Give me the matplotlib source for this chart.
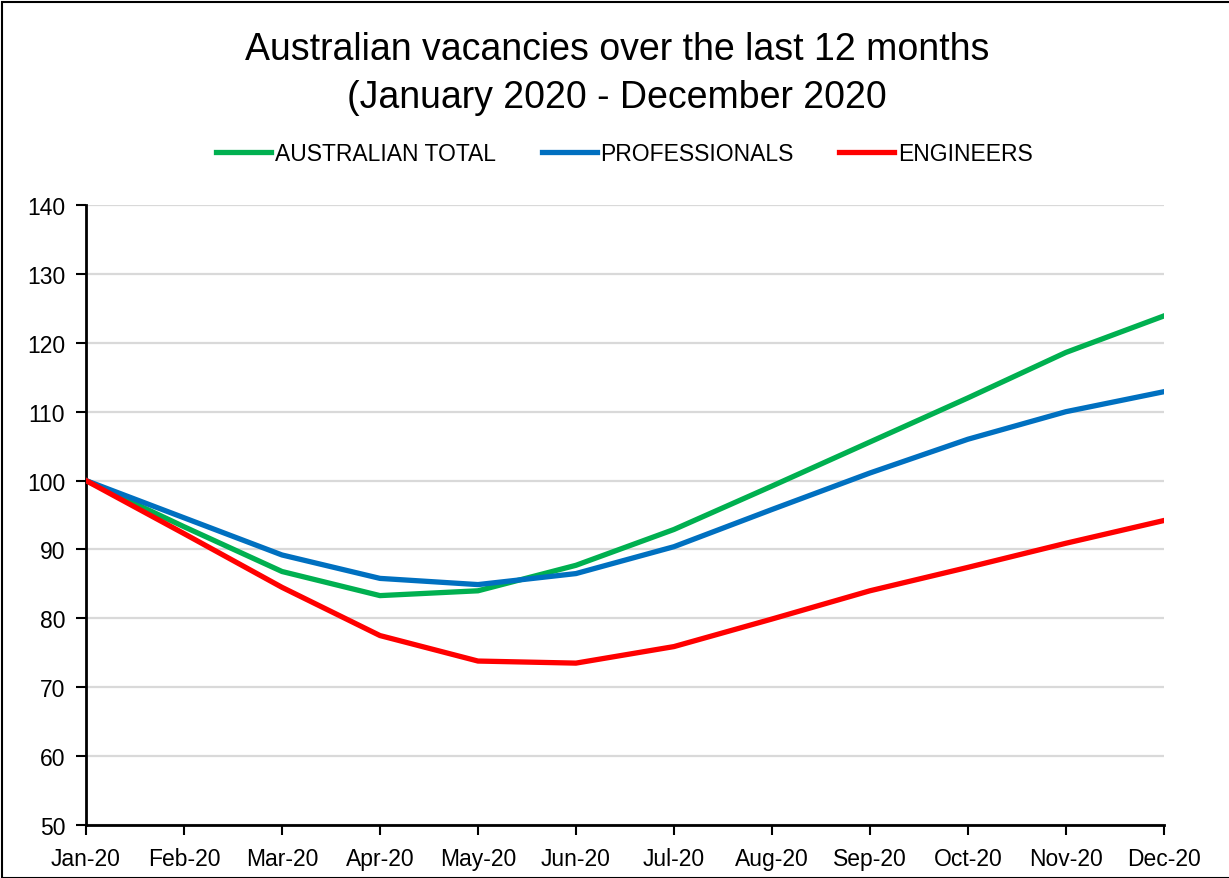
import matplotlib.pyplot as plt
from matplotlib.patches import Rectangle

plt.rcParams["font.family"] = ["Liberation Sans", "DejaVu Sans"]

# ─── Data ─────────────────────────────────────────────────────────────────────
months = ["Jan-20", "Feb-20", "Mar-20", "Apr-20", "May-20", "Jun-20",
          "Jul-20", "Aug-20", "Sep-20", "Oct-20", "Nov-20", "Dec-20"]
australian_total = [100, 93.3, 86.8, 83.3, 84.0, 87.7, 92.9, 99.2, 105.6, 112.0, 118.6, 123.9]
professionals = [100, 94.6, 89.2, 85.8, 84.9, 86.5, 90.4, 95.8, 101.1, 106.0, 110.0, 112.9]
engineers = [100, 92.3, 84.5, 77.5, 73.8, 73.5, 75.9, 79.9, 84.0, 87.4, 90.9, 94.2]

# ─── Figure ───────────────────────────────────────────────────────────────────
fig = plt.figure(figsize=(12.29, 8.79), dpi=100)
ax = fig.add_axes([0.070, 0.0603, 0.877, 0.7053])

x = range(len(months))
lw = 3.8
ax.plot(x, australian_total, color="#00b050", lw=lw, label="AUSTRALIAN TOTAL", zorder=3)
ax.plot(x, professionals, color="#0070c0", lw=lw, label="PROFESSIONALS", zorder=3)
ax.plot(x, engineers, color="#ff0000", lw=lw, label="ENGINEERS", zorder=4)

ax.set_xlim(0, len(months) - 1)
ax.set_ylim(50, 140)
ax.set_yticks(range(50, 141, 10))
ax.set_xticks(list(x))
ax.set_xticklabels(months)
ax.tick_params(axis="both", direction="out", length=7, width=1.5, labelsize=16.5,
               color="black", pad=8)
ax.tick_params(axis="x", pad=9)

ax.yaxis.grid(True, color="#d9d9d9", lw=1.6)
ax.set_axisbelow(True)
for side in ["top", "right"]:
    ax.spines[side].set_visible(False)
for side in ["left", "bottom"]:
    ax.spines[side].set_linewidth(2)

fig.text(0.502, 0.943, "Australian vacancies over the last 12 months", ha="center",
         va="center", fontsize=27)
fig.text(0.502, 0.889, "(January 2020 - December 2020", ha="center", va="center",
         fontsize=27)

fig.legend(loc="center", bbox_to_anchor=(0.508, 0.824), ncol=3, frameon=False,
           fontsize=16.5, handlelength=2.4, handletextpad=0.15, columnspacing=2.0)

# figure frame
fig.patches.append(Rectangle((0.002, 0.0), 1.2, 0.997, transform=fig.transFigure,
                             fill=False, edgecolor="black", lw=1.5))

fig.savefig("out.png", dpi=100)
